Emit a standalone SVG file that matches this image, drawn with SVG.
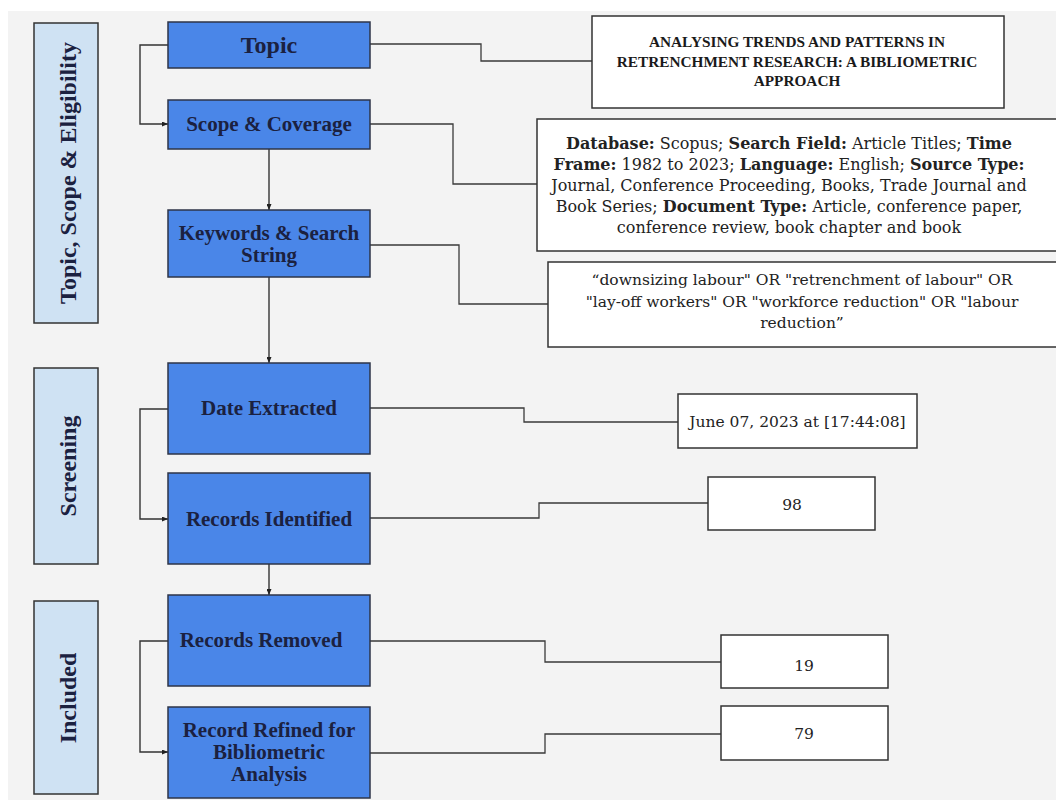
<svg xmlns="http://www.w3.org/2000/svg" width="1056" height="800" viewBox="0 0 1056 800">
<defs>
<marker id="arr" viewBox="0 0 6 5" refX="6" refY="2.5" markerWidth="6" markerHeight="5" markerUnits="userSpaceOnUse" orient="auto">
<path d="M0,0 L6,2.5 L0,5 z" fill="#222"/>
</marker>
<style>
.bg{fill:#f3f3f3}
.side{fill:#cfe2f3;stroke:#333;stroke-width:1.5}
.step{fill:#4a86e8;stroke:#2e3548;stroke-width:1.5}
.note{fill:#fff;stroke:#333;stroke-width:1.5}
.lbl{font-family:"Liberation Serif",serif;font-weight:bold;font-size:21px;fill:#1b2140;text-anchor:middle}
.sidet{font-family:"Liberation Serif",serif;font-weight:bold;font-size:24px;fill:#1b2140;text-anchor:middle}
.title{font-family:"Liberation Serif",serif;font-weight:bold;font-size:15.3px;fill:#1a1a1a;text-anchor:middle}
.txt{font-family:"DejaVu Serif",serif;font-size:15.5px;fill:#222;text-anchor:middle}
.txt16{font-size:16px}
.b{font-weight:bold}
.conn{fill:none;stroke:#333;stroke-width:1.4}
.connr{fill:none;stroke:#3a3a3a;stroke-width:1.3}
</style>
</defs>
<rect x="0" y="0" width="1056" height="800" fill="#fff"/>
<rect class="bg" x="8" y="11" width="1048" height="789"/>

<g id="phase-topic-scope">
<rect class="side" x="34" y="23" width="64" height="300"/>
<text class="sidet" transform="translate(76,173) rotate(-90)">Topic, Scope &amp; Eligibility</text>
</g>
<g id="phase-screening">
<rect class="side" x="34" y="368" width="64" height="196"/>
<text class="sidet" transform="translate(76,466) rotate(-90)">Screening</text>
</g>
<g id="phase-included">
<rect class="side" x="34" y="601" width="64" height="193"/>
<text class="sidet" transform="translate(76,698) rotate(-90)">Included</text>
</g>

<g id="connectors">
<path class="conn" d="M168,45 H140 V124 H168" marker-end="url(#arr)"/>
<path class="conn" d="M269,149 V210" marker-end="url(#arr)"/>
<path class="conn" d="M269,277 V363" marker-end="url(#arr)"/>
<path class="conn" d="M168,409 H140 V519 H168" marker-end="url(#arr)"/>
<path class="conn" d="M269,564 V595" marker-end="url(#arr)"/>
<path class="conn" d="M168,641 H140 V752 H168" marker-end="url(#arr)"/>
<path class="connr" d="M370,44 H481 V61 H592"/>
<path class="connr" d="M370,124 H453 V184 H537"/>
<path class="connr" d="M370,245 H459 V304 H548"/>
<path class="connr" d="M370,408 H524 V422 H678"/>
<path class="connr" d="M370,518 H539 V503 H708"/>
<path class="connr" d="M370,641 H545 V662 H721"/>
<path class="connr" d="M370,753 H545 V734 H721"/>
</g>

<g id="topic">
<rect class="step" x="168" y="22" width="202" height="46"/>
<text class="lbl" x="269" y="53" style="font-size:24px">Topic</text>
</g>
<g id="scope">
<rect class="step" x="168" y="100" width="202" height="49"/>
<text class="lbl" x="269" y="131">Scope &amp; Coverage</text>
</g>
<g id="keywords">
<rect class="step" x="168" y="210" width="202" height="67"/>
<text class="lbl" x="269" y="240">Keywords &amp; Search</text>
<text class="lbl" x="269" y="262">String</text>
</g>
<g id="date-extracted">
<rect class="step" x="168" y="363" width="202" height="91"/>
<text class="lbl" x="269" y="415">Date Extracted</text>
</g>
<g id="records-identified">
<rect class="step" x="168" y="473" width="202" height="91"/>
<text class="lbl" x="269" y="526">Records Identified</text>
</g>
<g id="records-removed">
<rect class="step" x="168" y="595" width="202" height="91"/>
<text class="lbl" x="261" y="647">Records Removed</text>
</g>
<g id="record-refined">
<rect class="step" x="168" y="707" width="202" height="91"/>
<text class="lbl" x="269" y="737">Record Refined for</text>
<text class="lbl" x="269" y="759">Bibliometric</text>
<text class="lbl" x="269" y="781">Analysis</text>
</g>

<g id="title-note">
<rect class="note" x="592" y="16" width="412" height="92"/>
<text class="title" x="797" y="47">ANALYSING TRENDS AND PATTERNS IN</text>
<text class="title" x="797" y="66.5">RETRENCHMENT RESEARCH: A BIBLIOMETRIC</text>
<text class="title" x="797" y="86">APPROACH</text>
</g>
<g id="scope-note">
<rect class="note" x="537" y="119" width="525" height="132"/>
<text class="txt txt16" x="789" y="149"><tspan class="b">Database:</tspan> Scopus; <tspan class="b">Search Field:</tspan> Article Titles; <tspan class="b">Time</tspan></text>
<text class="txt txt16" x="789" y="170"><tspan class="b">Frame:</tspan> 1982 to 2023; <tspan class="b">Language:</tspan> English; <tspan class="b">Source Type:</tspan></text>
<text class="txt txt16" x="789" y="191">Journal, Conference Proceeding, Books, Trade Journal and</text>
<text class="txt txt16" x="789" y="212">Book Series; <tspan class="b">Document Type:</tspan> Article, conference paper,</text>
<text class="txt txt16" x="789" y="233">conference review, book chapter and book</text>
</g>
<g id="keywords-note">
<rect class="note" x="548" y="262" width="514" height="85"/>
<text class="txt" x="802" y="285">“downsizing labour" OR "retrenchment of labour" OR</text>
<text class="txt" x="802" y="307">"lay-off workers" OR "workforce reduction" OR "labour</text>
<text class="txt" x="802" y="328">reduction”</text>
</g>
<g id="date-note">
<rect class="note" x="678" y="394" width="239" height="54"/>
<text class="txt" x="797.5" y="427">June 07, 2023 at [17:44:08]</text>
</g>
<g id="identified-note">
<rect class="note" x="708" y="477" width="167" height="53"/>
<text class="txt" x="792" y="510">98</text>
</g>
<g id="removed-note">
<rect class="note" x="721" y="635" width="167" height="53"/>
<text class="txt" x="804" y="671">19</text>
</g>
<g id="refined-note">
<rect class="note" x="721" y="706" width="167" height="54"/>
<text class="txt" x="804" y="739">79</text>
</g>
</svg>
